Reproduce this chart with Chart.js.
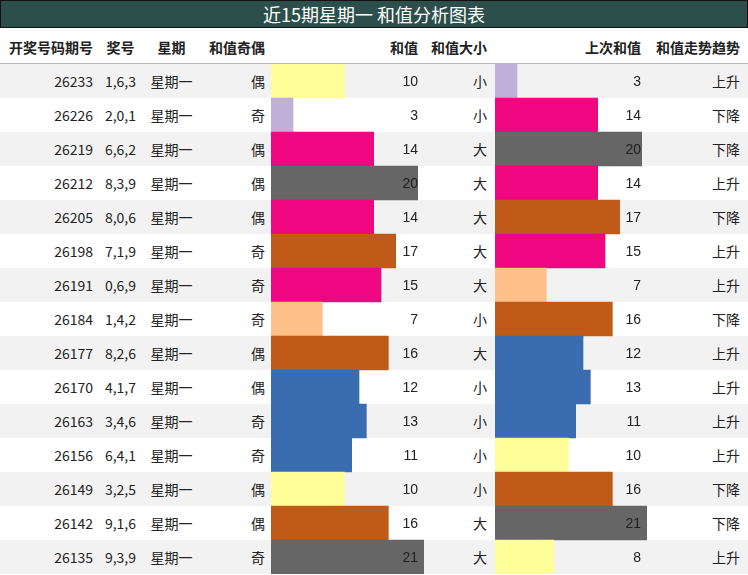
<!DOCTYPE html>
<html><head><meta charset="utf-8">
<script src="https://cdn.jsdelivr.net/npm/chart.js@4"></script>
<style>
body{margin:0;font-family:"Noto Sans CJK SC","Liberation Sans",sans-serif;font-size:14px;color:#222;}
#wrap{position:relative;width:748px;height:575px;background:#fff;overflow:hidden}
#title{position:absolute;left:0;top:0;width:746px;height:26px;background:#2d4f4b;color:#fff;font-size:18px;line-height:26px;text-align:center;border:1px solid #111}
.row{position:absolute;left:0;width:748px;height:34px}
.c{position:absolute;top:0;height:34px;line-height:34px;white-space:nowrap}
.hd .c{font-weight:bold;line-height:38px}
canvas{position:absolute}
</style></head><body>
<div id="wrap"><div id="title">近15期星期一 和值分析图表</div></div>
<script>
var periods = ['26233','26226','26219','26212','26205','26198','26191','26184','26177','26170','26163','26156','26149','26142','26135'];
var draws = ['1,6,3','2,0,1','6,6,2','8,3,9','8,0,6','7,1,9','0,6,9','1,4,2','8,2,6','4,1,7','3,4,6','6,4,1','3,2,5','9,1,6','9,3,9'];
var sums = [10,3,14,20,14,17,15,7,16,12,13,11,10,16,21];
var prevSums = [3,14,20,14,17,15,7,16,12,13,11,10,16,21,8];
var trends = ['上升','下降','下降','上升','下降','上升','上升','下降','上升','上升','上升','上升','下降','下降','上升'];
var headers = ['开奖号码期号','奖号','星期','和值奇偶','和值','和值大小','上次和值','和值走势趋势'];

function colorFor(v){
  if(v<=3) return '#c0b0d8';
  if(v<=7) return '#ffc08a';
  if(v<=10) return '#ffff99';
  if(v<=13) return '#3a6cb0';
  if(v<=15) return '#ee0780';
  if(v<=17) return '#c05a18';
  return '#666666';
}
// column: left, width, align
var cols = [[0,98,'right',5],[98,45,'center',0],[143,57,'center',0],[200,71,'right',6],[271,153,'right',6],[424,71,'right',8],[495,152,'right',6],[647,101,'right',8]];
var wrap = document.getElementById('wrap');
function addRow(top,cells,bg,cls){
  var r=document.createElement('div');r.className='row '+(cls||'');r.style.top=top+'px';r.style.background=bg;
  cells.forEach(function(t,i){
    var d=document.createElement('div');d.className='c';var c=cols[i];
    d.style.left=c[0]+'px';d.style.width=(c[1]-c[3])+'px';d.style.textAlign=c[2];d.textContent=t;
    r.appendChild(d);
  });
  wrap.appendChild(r);
}
var hdrCells=headers.slice();hdrCells[0]='';
addRow(28,hdrCells,'#fff','hd');
var h0=document.querySelector('.hd .c');h0.textContent='开奖号码期号';h0.style.textAlign='left';h0.style.left='9px';
var line=document.createElement('div');line.style.cssText='position:absolute;left:0;top:63px;width:748px;height:1px;background:#bbb';wrap.appendChild(line);
periods.forEach(function(p,i){
  addRow(64+i*34,[p,draws[i],'星期一',sums[i]%2?'奇':'偶','',sums[i]>=14?'大':'小','',trends[i]],i%2?'#fff':'#f2f2f2');
});

var labelPlugin={id:'lbl',afterDatasetsDraw:function(ch){
  var ctx=ch.ctx;ctx.save();ctx.font='14px "Liberation Sans", sans-serif';ctx.fillStyle='#222';ctx.textAlign='right';ctx.textBaseline='middle';
  ch.getDatasetMeta(0).data.forEach(function(b,i){ctx.fillText(ch.data.datasets[0].data[i],ch.width-6,b.y+1);});
  ctx.restore();
}};
function barChart(left,width,values){
  var cv=document.createElement('canvas');cv.width=width;cv.height=510;
  cv.style.left=left+'px';cv.style.top='64px';cv.style.width=width+'px';cv.style.height='510px';
  wrap.appendChild(cv);
  new Chart(cv.getContext('2d'),{type:'bar',
    data:{labels:periods,datasets:[{data:values,backgroundColor:values.map(colorFor),barPercentage:1,categoryPercentage:1}]},
    options:{indexAxis:'y',responsive:false,animation:false,layout:{padding:0},
      plugins:{legend:{display:false},tooltip:{enabled:false}},
      scales:{x:{display:false,min:0,max:21*width/154},y:{display:false}}},
    plugins:[labelPlugin]});
}
barChart(271,153,sums);
barChart(495,152,prevSums);
</script>
</body></html>
